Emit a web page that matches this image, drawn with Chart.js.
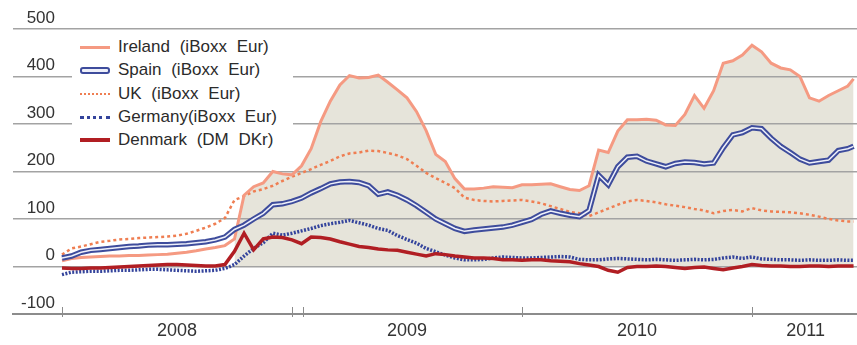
<!DOCTYPE html>
<html>
<head>
<meta charset="utf-8">
<script src="https://cdn.jsdelivr.net/npm/chart.js@4.4.1/dist/chart.umd.min.js"></script>
<style>
  html, body { margin: 0; padding: 0; background: #fff; }
  #wrap { position: relative; width: 857px; height: 345px; }
  #legend {
    position: absolute; left: 72px; top: 36px; width: 221px; height: 118px;
    background: #fff; font: 17px "Liberation Sans", Arial, sans-serif; color: #2b2b2b;
  }
  .row { position: absolute; left: 8px; height: 20px; display: flex; align-items: center; word-spacing: 5px; white-space: nowrap; }
  .sw { width: 30px; margin-right: 8px; box-sizing: border-box; }
</style>
</head>
<body>
<div id="wrap">
  <canvas id="chart" width="857" height="345"></canvas>
  <div id="legend"></div>
</div>
<script>
// months since Jan 2008, half-month steps
const months = [
  0, 0.5, 1, 1.5, 2, 2.5, 3, 3.5, 4, 4.5, 5, 5.5, 6, 6.5, 7, 7.5, 8, 8.5, 9, 9.5,
  10, 10.5, 11, 11.5, 12, 12.5, 13, 13.5, 14, 14.5, 15, 15.5, 16, 16.5, 17, 17.5, 18, 18.5, 19, 19.5,
  20, 20.5, 21, 21.5, 22, 22.5, 23, 23.5, 24, 24.5, 25, 25.5, 26, 26.5, 27, 27.5, 28, 28.5, 29, 29.5,
  30, 30.5, 31, 31.5, 32, 32.5, 33, 33.5, 34, 34.5, 35, 35.5, 36, 36.5, 37, 37.5, 38, 38.5, 39, 39.5,
  40, 40.5, 41, 41.3
]

const ireland = [
  12, 17, 19, 20, 21, 22, 22, 23, 23, 24,
  25, 26, 28, 30, 33, 37, 40, 44, 58, 150,
  168, 176, 200, 195, 193, 212, 248, 305, 348, 382,
  402, 397, 398, 403, 388, 372, 355, 326, 286, 236,
  221, 185, 163, 163, 165, 168, 167, 166, 172, 172,
  173, 174, 168, 162, 160, 170, 245, 240, 285, 309,
  309, 310, 308, 298, 297, 320, 360, 333, 370, 428,
  433, 445, 466, 452, 428, 418, 414, 400, 355, 348,
  360, 370, 380, 395
]
const spain = [
  18, 22, 30, 34, 36, 38, 40, 42, 43, 45,
  46, 46, 47, 48, 50, 52, 56, 62, 78, 87,
  100, 112, 130, 132, 137, 144, 155, 164, 174, 178,
  179, 177, 170, 152, 157, 150, 140, 128, 114, 100,
  90, 80, 74, 77, 79, 81, 83, 87, 93, 99,
  110, 117, 112, 108, 105, 118, 192, 172, 210, 230,
  232, 222, 216, 210, 217, 220, 219, 216, 218, 250,
  277, 282, 292, 290, 270, 253, 240, 226, 218, 221,
  224, 244, 248, 253
]
const uk = [
  25, 38, 42, 47, 52, 54, 57, 58, 60, 61,
  62, 63, 65, 69, 75, 82, 90, 102, 140, 148,
  158, 163, 170, 180, 189, 197, 205, 214, 222, 232,
  238, 240, 244, 243, 239, 234, 226, 212, 197, 186,
  176, 165, 145, 140, 138, 137, 138, 139, 140, 137,
  133, 127, 121, 115, 112, 106, 114, 122, 130, 137,
  140, 138, 135, 131, 128, 125, 121, 118, 112, 117,
  119, 116, 123, 118, 116, 115, 114, 112, 109, 105,
  100, 97, 95, 95
]
const germany = [
  -17, -12, -11, -10, -10, -9, -8, -8, -7, -6,
  -6, -7, -8, -9, -10, -9, -8, -4, 4, 22,
  38, 50, 70, 66, 70, 75, 80, 86, 90, 93,
  97, 92, 87, 80, 76, 65, 57, 49, 38, 31,
  24, 18, 14, 14, 15, 18, 20, 19, 18, 18,
  19, 20, 21, 20, 15, 14, 14, 16, 17, 16,
  15, 14, 15, 14, 13, 14, 15, 14, 15, 18,
  20, 17, 20, 16, 15, 14, 14, 13, 14, 13,
  13, 14, 13, 13
]
const denmark = [
  -3, -4, -4, -3, -3, -2, -1, 0, 1, 2,
  3, 4, 4, 3, 2, 1, 1, 4, 32, 70,
  35, 58, 62, 61, 56, 48, 62, 61, 58, 52,
  47, 42, 40, 37, 35, 34, 30, 26, 22, 27,
  25, 22, 20, 18, 18, 17, 14, 14, 13, 14,
  14, 12, 11, 10, 6, 3, 0, -8, -12, -2,
  0, 0, 1, 0, -2, -4, -2, -1, -4, -7,
  -3, 0, 4, 2, 1, 1, 0, 0, 1, 1,
  0, 1, 1, 1
]

const seriesNames = ['Ireland (iBoxx Eur)', 'Spain (iBoxx Eur)', 'UK (iBoxx Eur)', 'Germany(iBoxx Eur)', 'Denmark (DM DKr)']
const yearLabels = ['2008', '2009', '2010', '2011']
const yearLabelAt = [6, 18, 30, 38.8]
const yearStarts = [0, 12, 12.57, 24, 36]
const yTicks = [-100, 0, 100, 200, 300, 400, 500]
const shadeFrom = 18 // shading under Ireland starts Sep 2008

const font = '"Liberation Sans", Arial, sans-serif'
Chart.defaults.font.family = font

const pts = arr => arr.map((v, i) => ({x: months[i], y: v}))

// Legend (html, sits on a white box like the original)
const swatches = [
  'border-top:3px solid #f59a82;',
  'height:7px;border:2px solid #3e4c9c;background:#eef0fa;border-radius:3px;',
  'border-top:2px dotted #ef7e52;',
  'border-top:3px dotted #34449c;',
  'border-top:4px solid #b11e23;'
]
const rowTops = [1, 24, 48, 71, 94]
document.getElementById('legend').innerHTML = seriesNames.map((name, i) =>
  `<div class="row" style="top:${rowTops[i]}px"><div class="sw" style="${swatches[i]}"></div><span>${name}</span></div>`
).join('')

// small tick marks at the year boundaries, crossing the bottom axis
const yearTicks = {
  id: 'yearTicks',
  afterDraw(chart) {
    const {ctx, chartArea} = chart
    const x = chart.scales.x
    ctx.save()
    ctx.strokeStyle = '#8c8c8c'
    ctx.lineWidth = 1
    yearStarts.forEach(m => {
      const px = Math.round(x.getPixelForValue(m)) + 0.5
      ctx.beginPath()
      ctx.moveTo(px, chartArea.bottom - 7)
      ctx.lineTo(px, chartArea.bottom + 3)
      ctx.stroke()
    })
    ctx.restore()
  }
}

const line = (data, color, width, extra) => Object.assign({
  data: pts(data), borderColor: color, borderWidth: width, fill: false, pointRadius: 0
}, extra || {})

new Chart(document.getElementById('chart').getContext('2d'), {
  type: 'line',
  data: {
    datasets: [
      line(denmark, '#b11e23', 3.5),
      line(germany, '#34449c', 3.5, {borderDash: [2, 1.5]}),
      line(spain, '#eef0fa', 1.5),
      line(spain, '#3e4c9c', 5.5),
      line(ireland, '#f59a82', 3),
      line(uk, '#ef7e52', 2.5, {borderDash: [3, 3]}),
      {
        data: ireland.map((v, i) => ({x: months[i], y: i >= shadeFrom ? v : null})),
        borderWidth: 0, pointRadius: 0,
        backgroundColor: '#e6e4da', fill: 'origin'
      }
    ]
  },
  options: {
    responsive: false,
    animation: false,
    layout: {padding: {left: 13, top: 29, right: 0, bottom: 0}},
    plugins: {
      legend: {display: false},
      tooltip: {enabled: false},
      filler: {drawTime: 'beforeDraw'}
    },
    elements: {line: {tension: 0}},
    scales: {
      x: {
        type: 'linear',
        min: -2.556,
        max: 41.48,
        afterBuildTicks: s => { s.ticks = yearLabelAt.map(v => ({value: v})) },
        afterFit: s => { s.height = 31 },
        ticks: {
          callback: (v, i) => yearLabels[i],
          font: {size: 18},
          color: '#333',
          padding: 6,
          maxRotation: 0,
          autoSkip: false
        },
        grid: {drawOnChartArea: false, drawTicks: false},
        border: {display: true, color: '#8c8c8c', width: 2}
      },
      y: {
        min: -100,
        max: 500,
        afterBuildTicks: s => { s.ticks = yTicks.map(v => ({value: v})) },
        afterFit: s => { s.width = 0 },
        ticks: {
          mirror: true,
          crossAlign: 'far',
          padding: 8,
          labelOffset: -11,
          font: {size: 17},
          color: '#333'
        },
        grid: {color: '#a3a3a3', lineWidth: 1.5, drawTicks: false},
        border: {display: false}
      }
    }
  },
  plugins: [yearTicks]
})
</script>
</body>
</html>
